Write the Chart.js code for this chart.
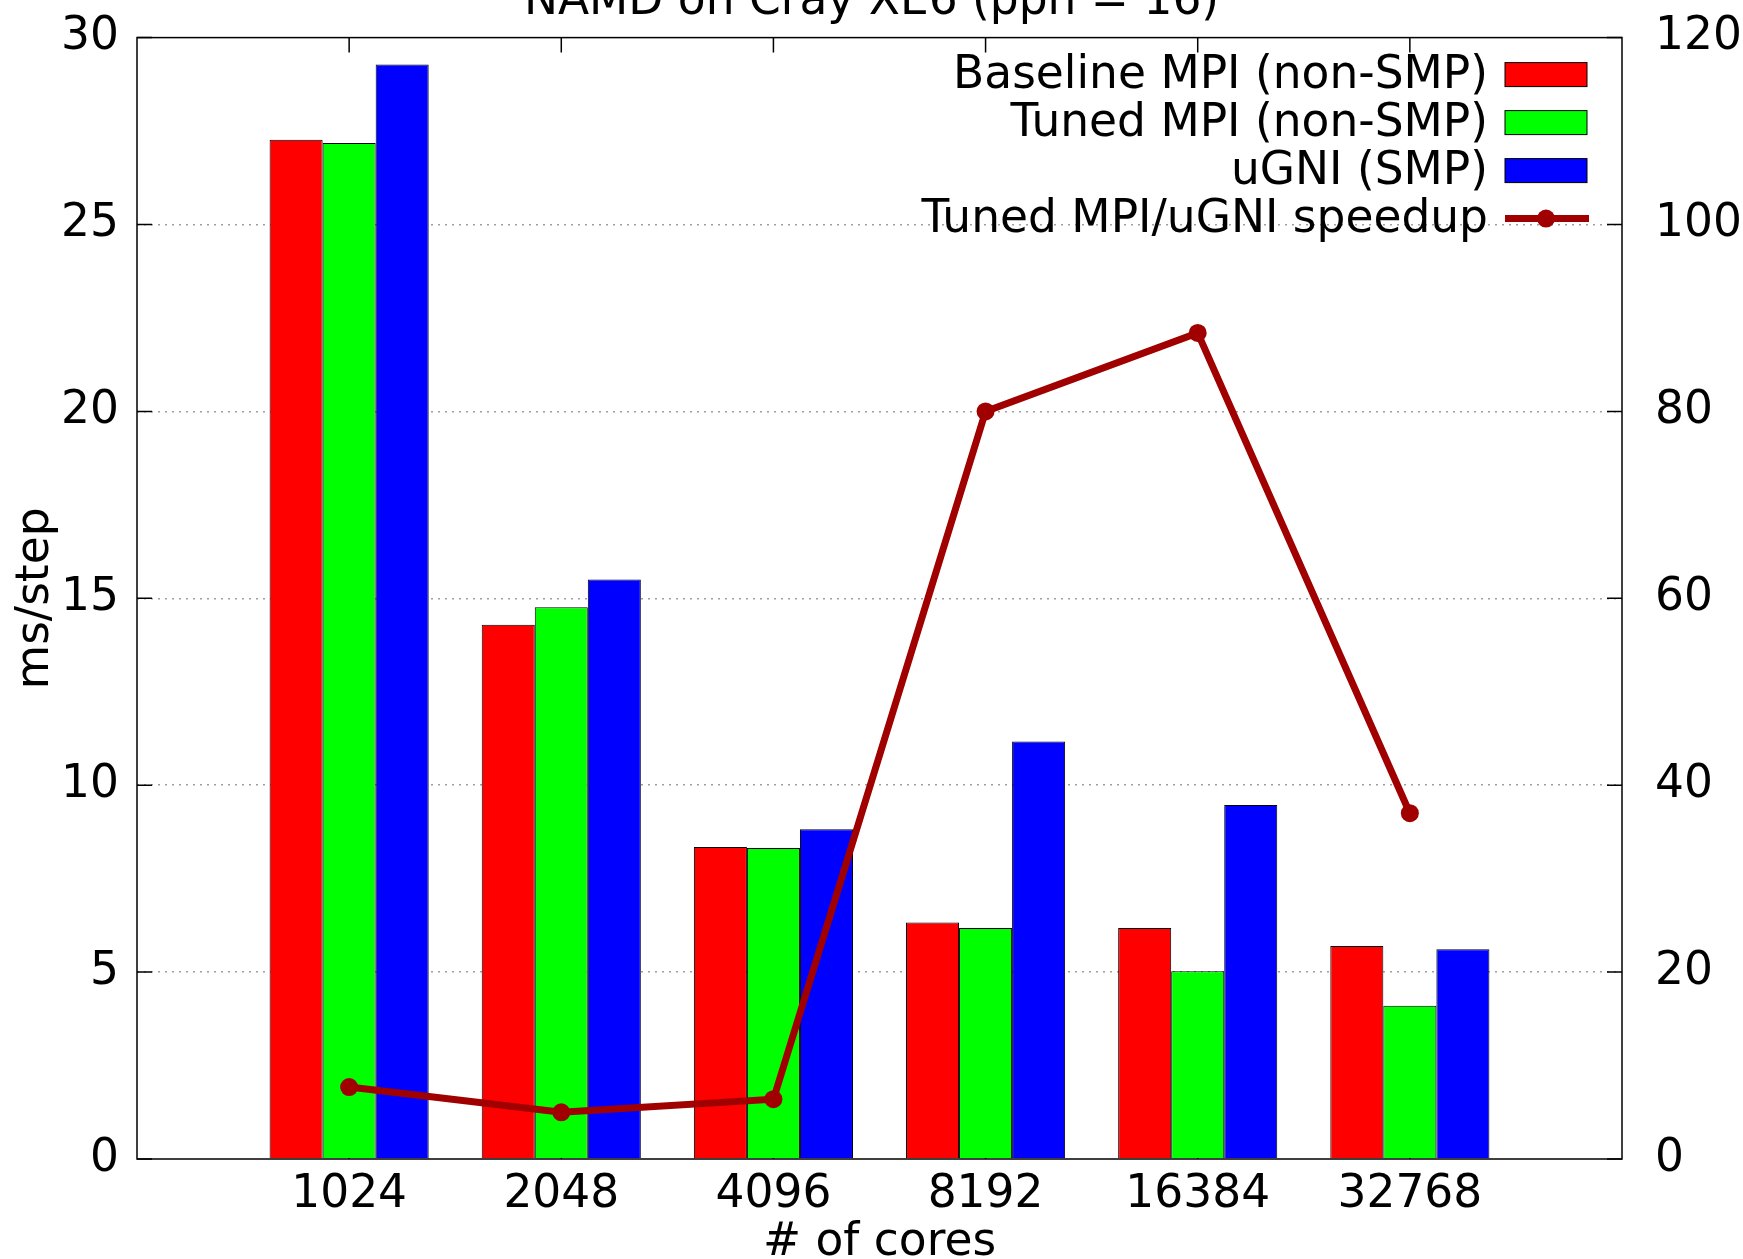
<!DOCTYPE html>
<html>
<head>
<meta charset="utf-8">
<script src="https://cdn.jsdelivr.net/npm/chart.js@4.4.0/dist/chart.umd.min.js"></script>
<style>
  html, body { margin: 0; padding: 0; background: #fff; overflow: hidden; }
  /* title sits half above the page edge, as in the original */
  canvas { display: block; margin-top: -30px; }
</style>
</head>
<body>
<canvas id="namd" width="1743" height="1300"></canvas>
<script>
// data
const cores = ['1024', '2048', '4096', '8192', '16384', '32768'];
const baselineMPI = [27.27, 14.29, 8.35, 6.33, 6.18, 5.70];
const tunedMPI = [27.18, 14.76, 8.32, 6.18, 5.02, 4.10];
const ugniSMP = [29.28, 15.50, 8.82, 11.17, 9.47, 5.61];
const speedup = [7.7, 5.0, 6.4, 80.0, 88.4, 37.0];

// one empty slot each side, like gnuplot's xrange
const labels = [''].concat(cores, ['']);
const pad = arr => [null].concat(arr, [null]);

const fnt = { family: 'DejaVu Sans', size: 45.5, weight: 'normal' };
const darkRed = '#a00000';

// gnuplot style frame, inward tick marks
const frame = {
  id: 'frame',
  beforeDatasetsDraw(chart) {
    const ctx = chart.ctx, a = chart.chartArea;
    const x = chart.scales.x, y = chart.scales.y, y1 = chart.scales.y1;
    ctx.save();
    ctx.strokeStyle = '#000';
    ctx.lineWidth = 1.5;
    ctx.beginPath();
    for (let i = 1; i <= cores.length; i++) {
      const px = x.getPixelForValue(i);
      ctx.moveTo(px, a.top); ctx.lineTo(px, a.top + 15);
      ctx.moveTo(px, a.bottom); ctx.lineTo(px, a.bottom - 15);
    }
    y.ticks.forEach(t => {
      const py = y.getPixelForValue(t.value);
      ctx.moveTo(a.left, py); ctx.lineTo(a.left + 15, py);
    });
    y1.ticks.forEach(t => {
      const py = y1.getPixelForValue(t.value);
      ctx.moveTo(a.right, py); ctx.lineTo(a.right - 15, py);
    });
    ctx.stroke();
    ctx.restore();
  },
  afterDatasetsDraw(chart) {
    const ctx = chart.ctx, a = chart.chartArea;
    ctx.save();
    ctx.strokeStyle = '#000';
    ctx.lineWidth = 1.5;
    ctx.strokeRect(a.left, a.top, a.right - a.left, a.bottom - a.top);
    ctx.restore();
  }
};

// key in the top right corner: text right aligned, sample after it
const key = {
  id: 'key',
  afterDraw(chart) {
    const ctx = chart.ctx, a = chart.chartArea;
    ctx.save();
    ctx.font = fnt.size + 'px ' + fnt.family;
    ctx.textAlign = 'right';
    ctx.textBaseline = 'middle';
    chart.data.datasets.forEach((ds, i) => {
      const cy = a.top + 37 + i * 48;
      ctx.fillStyle = '#000';
      ctx.fillText(ds.label, a.right - 134, cy + 2);
      if (ds.type === 'line') {
        ctx.strokeStyle = ds.borderColor;
        ctx.lineWidth = ds.borderWidth;
        ctx.beginPath();
        ctx.moveTo(a.right - 117, cy); ctx.lineTo(a.right - 33, cy);
        ctx.stroke();
        ctx.fillStyle = ds.borderColor;
        ctx.beginPath();
        ctx.arc(a.right - 76, cy, ds.pointRadius, 0, Math.PI * 2);
        ctx.fill();
      } else {
        ctx.fillStyle = ds.backgroundColor;
        ctx.fillRect(a.right - 117, cy - 12, 82, 24);
        ctx.strokeStyle = '#000';
        ctx.lineWidth = 1;
        ctx.strokeRect(a.right - 117, cy - 12, 82, 24);
      }
    });
    ctx.restore();
  }
};

const ctxNamd = document.getElementById('namd').getContext('2d');
const grafNamd = new Chart(ctxNamd, {
  type: 'bar',
  data: {
    labels: labels,
    datasets: [{
      label: 'Baseline MPI (non-SMP)',
      data: pad(baselineMPI),
      backgroundColor: '#ff0000',
      borderColor: '#000',
      borderWidth: 1,
      yAxisID: 'y',
      order: 1
    }, {
      label: 'Tuned MPI (non-SMP)',
      data: pad(tunedMPI),
      backgroundColor: '#00ff00',
      borderColor: '#000',
      borderWidth: 1,
      yAxisID: 'y',
      order: 1
    }, {
      label: 'uGNI (SMP)',
      data: pad(ugniSMP),
      backgroundColor: '#0000ff',
      borderColor: '#000',
      borderWidth: 1,
      yAxisID: 'y',
      order: 1
    }, {
      type: 'line',
      label: 'Tuned MPI/uGNI speedup',
      data: pad(speedup),
      borderColor: darkRed,
      backgroundColor: darkRed,
      borderWidth: 7,
      pointRadius: 9,
      pointBackgroundColor: darkRed,
      pointBorderWidth: 0,
      yAxisID: 'y1',
      order: 0
    }]
  },
  options: {
    responsive: false,
    animation: false,
    events: [],
    categoryPercentage: 0.75,
    barPercentage: 1.0,
    layout: { padding: 0 },
    plugins: {
      legend: { display: false },
      tooltip: { enabled: false },
      title: {
        display: true,
        text: 'NAMD on Cray XE6 (ppn = 16)',
        color: '#000',
        font: fnt,
        padding: { top: 5, bottom: 8 }
      }
    },
    scales: {
      x: {
        offset: false,
        grid: { display: false, drawTicks: false },
        border: { display: false },
        ticks: { color: '#000', font: fnt, padding: 9, maxRotation: 0, autoSkip: false },
        title: { display: true, text: '# of cores', color: '#000', font: fnt, padding: 0 },
        afterFit: s => { s.height = 111; }
      },
      y: {
        position: 'left',
        min: 0, max: 30,
        ticks: { stepSize: 5, color: '#000', font: fnt, padding: 18 },
        grid: {
          drawTicks: false,
          color: c => (c.tick.value === 0 || c.tick.value === 30) ? 'rgba(0,0,0,0)' : '#a0a0a0',
          lineWidth: 1.5
        },
        border: { display: false, dash: [2, 5] },
        title: { display: true, text: 'ms/step', color: '#000', font: fnt, padding: { top: 9, bottom: 0 } },
        afterFit: s => { s.width = 137; }
      },
      y1: {
        position: 'right',
        min: 0, max: 120,
        ticks: { stepSize: 20, color: '#000', font: fnt, padding: 33 },
        grid: { display: false, drawTicks: false },
        border: { display: false },
        afterFit: s => { s.width = 121; }
      }
    }
  },
  plugins: [frame, key]
});
</script>
</body>
</html>
